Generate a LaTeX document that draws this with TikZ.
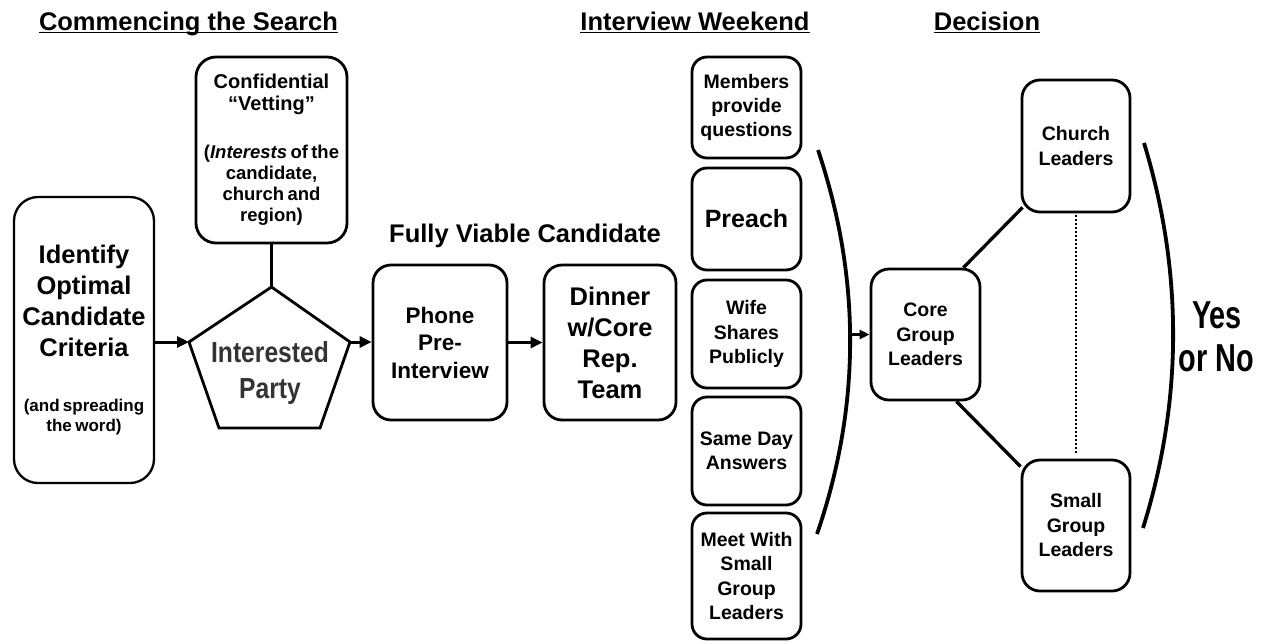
\documentclass[tikz,border=0pt]{standalone}
\usepackage{fontspec}
\usepackage{graphicx}
\setmainfont{Liberation Sans}
\usetikzlibrary{arrows.meta}
% horizontally condensed text
\newcommand\narrowed[2]{\scalebox{#1}[1]{#2}}
\begin{document}
\begin{tikzpicture}[x=1pt,y=-1pt,
  box/.style={draw, line width=2.8pt, rounded corners=#1, align=center, inner sep=0pt, font=\bfseries},
  box/.default=16pt,
  wk/.style={box=15pt, minimum width=109pt, font=\bfseries\fontsize{19.5}{24.5}\selectfont},
  leader/.style={box=18pt, minimum width=108pt, minimum height=131pt, font=\bfseries\fontsize{19.5}{24.5}\selectfont},
  link/.style={line width=3.3pt},
  arr/.style={line width=3pt, -{Triangle[length=12pt,width=11pt]}},
  bracket/.style={line width=3.8pt},
  head/.style={font=\bfseries\fontsize{25.5}{30}\selectfont, inner sep=0pt, anchor=base},
  uline/.style={line width=1.8pt},
  verdict/.style={font=\bfseries\fontsize{39}{42}\selectfont, inner sep=0pt, anchor=base},
]
\useasboundingbox (0,0) rectangle (1265,643);

% ---- stage headings ----
\node[head] (hsearch) at (188.5,30) {Commencing the Search};
\node[head] (hweekend) at (695,30) {Interview Weekend};
\node[head] (hdecision) at (987,30) {Decision};
\foreach \h in {hsearch,hweekend,hdecision}
  \draw[uline] ([yshift=-2.5pt]\h.base west) -- ([yshift=-2.5pt]\h.base east);

% ---- commencing the search ----
\node[box=24pt, line width=2.3pt, minimum width=140pt, minimum height=286pt, text width=138pt] (ident) at (84,340)
  {\fontsize{25.5}{31}\selectfont Identify\\Optimal\\Candidate\\Criteria\par
   \vspace{35pt}\fontsize{17}{20}\selectfont (and spreading\\the word)\par};

\node[box=20pt, minimum width=151pt, minimum height=186pt, text width=151pt] (vet) at (271.5,150)
  {\fontsize{20}{22}\selectfont Confidential\\“Vetting”\par
   \vspace{27pt}\fontsize{18.5}{21}\selectfont (\textit{Interests} of\ the\\candidate,\\church and\\region)\par};

% pentagon around "Interested Party"
\coordinate (pt) at (271.5,287);
\coordinate (pr) at (350,342);
\coordinate (pbr) at (320,428);
\coordinate (pbl) at (219,428);
\coordinate (pl) at (189,342);
\draw[line width=2.8pt, line join=miter] (pt) -- (pr) -- (pbr) -- (pbl) -- (pl) -- cycle;
\node[font=\bfseries\fontsize{29}{36}\selectfont, text=black!80, align=center, inner sep=0pt] (party) at (270,373)
  {\narrowed{0.85}{Interested}\\\narrowed{0.85}{Party}};

% ---- fully viable candidate ----
\node[head] (viable) at (525,242) {Fully Viable Candidate};
\node[box=18pt, minimum width=134pt, minimum height=155pt, font=\bfseries\fontsize{22.5}{27.5}\selectfont] (phone) at (440,342.5)
  {Phone\\Pre-\\Interview};
\node[box=18pt, minimum width=132pt, minimum height=155pt, font=\bfseries\fontsize{25.5}{31}\selectfont] (dinner) at (610,342.5)
  {Dinner\\w/Core\\Rep.\\Team};

\draw[arr] (ident.east |- pl) -- (pl);
\draw[link] (vet.south) -- (pt);
\draw[arr] (pr) -- (phone.west |- pr);
\draw[arr] (phone.east) -- (dinner.west);

% ---- interview weekend ----
\node[wk, minimum height=101pt, font=\bfseries\fontsize{19.5}{24}\selectfont] (members) at (746.5,107.5) {Members\\provide\\questions};
\node[wk, minimum height=102pt, font=\bfseries\fontsize{25}{30}\selectfont] (preach) at (746.5,219) {Preach};
\node[wk, minimum height=108pt] (wife) at (746.5,334) {Wife\\Shares\\Publicly};
\node[wk, minimum height=108pt] (sameday) at (746.5,451) {Same Day\\Answers};
\node[wk, minimum height=126pt] (meet) at (746.5,576) {Meet With\\Small\\Group\\Leaders};

\draw[bracket] (818,150) .. controls (861,278) and (861,406) .. (817,534) coordinate[pos=0.5] (archmid);

% ---- decision ----
\node[leader, minimum width=109pt] (core) at (925.5,334.5) {Core\\Group\\Leaders};
\node[leader, minimum height=132pt] (church) at (1076,146) {Church\\Leaders};
\node[leader] (small) at (1076,525.5) {Small\\Group\\Leaders};

\draw[line width=2.6pt, -{Triangle[length=10pt,width=9pt]}] (archmid |- core.west) -- (core.west);
\draw[link] ([xshift=-18pt]core.north east) -- ([xshift=2pt,yshift=6pt]church.south west);
\draw[link] ([xshift=-25pt]core.south east) -- ([yshift=-8pt]small.north west);
\draw[line width=1.5pt, dash pattern=on 1.5pt off 2.5pt, shorten <=2pt, shorten >=4pt] (church.south) -- (small.north);

\draw[bracket] (1144,143) .. controls (1183,271) and (1183,400) .. (1143,528);
\node[verdict] (yes) at (1217,328.5) {\narrowed{0.74}{Yes}};
\node[verdict] (orno) at (1216.5,371) {\narrowed{0.74}{or No}};
\end{tikzpicture}
\end{document}
